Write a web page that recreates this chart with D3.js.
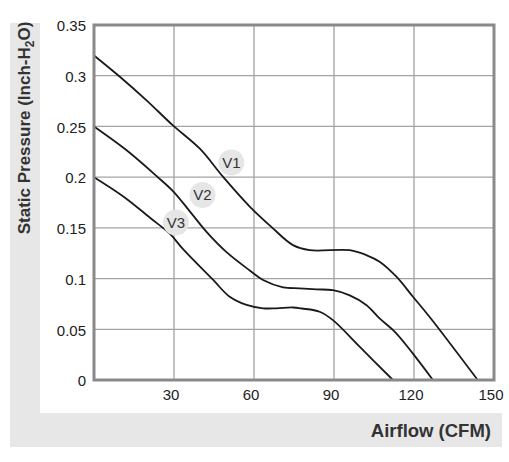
<!DOCTYPE html>
<html>
<head>
<meta charset="utf-8">
<script src="https://cdn.jsdelivr.net/npm/d3@7"></script>
<style>
  body { margin: 0; background: #fff; }
  svg { display: block; font-family: "Liberation Sans", Arial, sans-serif; }
</style>
</head>
<body>
<div id="chart"></div>
<script>
// fan curves (airflow CFM, static pressure inch-H2O)
const v1 = [
  [0, 0.32], [9.7, 0.299], [20, 0.275], [29.6, 0.251], [39.7, 0.228], [48.5, 0.200],
  [58.4, 0.171], [66.5, 0.151], [74.6, 0.133], [80.9, 0.128], [95.9, 0.128],
  [102.1, 0.1232], [107.1, 0.1166], [113.4, 0.1018], [119.6, 0.0821], [125.8, 0.0624],
  [143.9, 0]
];
const v2 = [
  [0, 0.25], [12, 0.227], [23.5, 0.201], [29.7, 0.186], [36, 0.166],
  [42.2, 0.146], [49.7, 0.126], [58.4, 0.108], [63.4, 0.0986], [70.9, 0.0914],
  [77, 0.0904], [83.4, 0.0894], [89.6, 0.0885], [95.9, 0.0835], [102.1, 0.074],
  [107.1, 0.0608], [113, 0.047], [119.6, 0.026], [127.1, 0]
];
const v3 = [
  [0, 0.2], [11, 0.181], [21, 0.160], [28.5, 0.144], [33.4, 0.129], [44.7, 0.0986],
  [50.9, 0.082], [57.2, 0.074], [63.4, 0.0707], [68.4, 0.0707], [74.6, 0.0715],
  [78, 0.0705], [84.6, 0.0673], [89.6, 0.059], [99.6, 0.0328], [112.1, 0]
];
const seriesNames = ["V1", "V2", "V3"];
const labelAt = [[51.5, 0.2144], [40.7, 0.1824], [30.7, 0.1553]];
const xTicks = [30, 60, 90, 120, 150];
const yTicks = [0, 0.05, 0.1, 0.15, 0.2, 0.25, 0.3, 0.35];

const W = 509, H = 462;
const svg = d3.select("#chart").append("svg")
  .attr("width", W)
  .attr("height", H);

// gray L-shaped band behind the axis titles
svg.append("rect").attr("x", 10).attr("y", 23).attr("width", 492).attr("height", 424).attr("fill", "#e7e7e8");
svg.append("rect").attr("x", 40).attr("y", 0).attr("width", 469).attr("height", 413).attr("fill", "#fff");

const x = d3.scaleLinear().domain([0, 150]).range([94, 494]);
const y = d3.scaleLinear().domain([0, 0.35]).range([380, 25]);

// grid
svg.append("g")
  .selectAll("line")
  .data(xTicks)
  .join("line")
  .attr("x1", d => x(d)).attr("x2", d => x(d))
  .attr("y1", y(0.35)).attr("y2", y(0))
  .attr("stroke", "#a3a3a3").attr("stroke-width", 1.3);

svg.append("g")
  .selectAll("line")
  .data(yTicks)
  .join("line")
  .attr("x1", x(0)).attr("x2", x(150))
  .attr("y1", d => y(d)).attr("y2", d => y(d))
  .attr("stroke", "#a3a3a3").attr("stroke-width", 1.3);

// tick labels
svg.append("g")
  .selectAll("text")
  .data(yTicks)
  .join("text")
  .attr("x", 86)
  .attr("y", d => y(d) + 1)
  .attr("dy", "0.35em")
  .attr("text-anchor", "end")
  .attr("font-size", 15)
  .attr("fill", "#222")
  .text(d => d === 0 ? "0" : d3.format("")(d));

svg.append("g")
  .selectAll("text")
  .data(xTicks)
  .join("text")
  .attr("x", d => x(d) - 3)
  .attr("y", 400)
  .attr("text-anchor", "middle")
  .attr("font-size", 15)
  .attr("fill", "#222")
  .text(d => d);

// curves
const line = d3.line()
  .x(d => x(d[0]))
  .y(d => y(d[1]))
  .curve(d3.curveCatmullRom.alpha(0.5));

svg.append("g")
  .selectAll("path")
  .data([v1, v2, v3])
  .join("path")
  .attr("d", line)
  .attr("fill", "none")
  .attr("stroke", "#1a1a1a")
  .attr("stroke-width", 1.8);

// frame
svg.append("rect")
  .attr("x", x(0)).attr("y", y(0.35))
  .attr("width", x(150) - x(0)).attr("height", y(0) - y(0.35))
  .attr("fill", "none")
  .attr("stroke", "#8a8a8a")
  .attr("stroke-width", 3);

// V labels
const tags = svg.append("g")
  .selectAll("g")
  .data(seriesNames)
  .join("g")
  .attr("transform", (d, i) => `translate(${x(labelAt[i][0])},${y(labelAt[i][1])})`);

tags.append("circle").attr("r", 13).attr("fill", "#e6e6e7");
tags.append("text")
  .attr("text-anchor", "middle")
  .attr("dy", "0.36em")
  .attr("font-size", 15)
  .attr("fill", "#333")
  .text(d => d);

// axis titles
const yl = svg.append("text")
  .attr("transform", "translate(30,128) rotate(-90)")
  .attr("text-anchor", "middle")
  .attr("font-size", 17)
  .attr("font-weight", "bold")
  .attr("fill", "#333");
yl.append("tspan").text("Static Pressure (Inch-H");
yl.append("tspan").attr("dy", 4).attr("font-size", 12).text("2");
yl.append("tspan").attr("dy", -4).text("O)");

svg.append("text")
  .attr("x", 491)
  .attr("y", 437)
  .attr("text-anchor", "end")
  .attr("font-size", 18.5)
  .attr("font-weight", "bold")
  .attr("fill", "#333")
  .text("Airflow (CFM)");
</script>
</body>
</html>
